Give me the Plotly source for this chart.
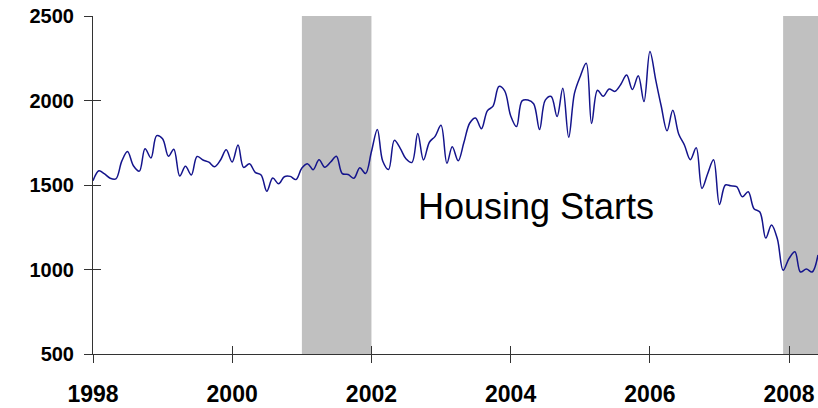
import pandas as pd
import plotly.graph_objects as go

start_month = "1998-01-01"
end_month = "2008-06-01"

starts_1998 = [1525, 1584, 1567, 1540, 1536, 1641, 1698, 1614, 1582, 1715, 1660, 1792]
starts_1999 = [1774, 1670, 1712, 1553, 1611, 1559, 1669, 1648, 1635, 1608, 1648, 1708]
starts_2000 = [1636, 1737, 1604, 1626, 1575, 1559, 1463, 1541, 1507, 1549, 1551, 1532]
starts_2001 = [1600, 1625, 1590, 1649, 1605, 1636, 1670, 1567, 1562, 1540, 1602, 1568]
starts_2002 = [1698, 1829, 1642, 1592, 1764, 1717, 1655, 1633, 1804, 1648, 1753, 1788]
starts_2003 = [1853, 1629, 1726, 1643, 1751, 1867, 1897, 1833, 1939, 1967, 2083, 2057]
starts_2004 = [1911, 1846, 1998, 2003, 1981, 1828, 2002, 2024, 1905, 2072, 1782, 2042]
starts_2005 = [2144, 2220, 1864, 2061, 2025, 2068, 2054, 2095, 2151, 2065, 2147, 1994]
starts_2006 = [2290, 2119, 1969, 1821, 1942, 1802, 1737, 1650, 1720, 1480, 1570, 1649]
starts_2007 = [1385, 1500, 1495, 1490, 1430, 1460, 1360, 1340, 1186, 1264, 1180, 995]
starts_2008 = [1065, 1105, 985, 1003, 985, 1086]

housing_starts = (starts_1998 + starts_1999 + starts_2000 + starts_2001 + starts_2002
                  + starts_2003 + starts_2004 + starts_2005 + starts_2006 + starts_2007
                  + starts_2008)
months = pd.date_range(start_month, periods=len(housing_starts), freq="MS")

recessions = [("2001-01-01", "2002-01-01"), ("2007-12-01", end_month)]

y_ticks = [500, 1000, 1500, 2000, 2500]
x_tick_years = ["1998", "2000", "2002", "2004", "2006", "2008"]
x_tick_vals = [f"{y}-01-01" for y in x_tick_years]

title_text = "Housing Starts"

fig = go.Figure()

for r0, r1 in recessions:
    fig.add_shape(type="rect", xref="x", yref="y", x0=r0, x1=r1, y0=500, y1=2500,
                  fillcolor="#c0c0c0", line_width=0, layer="below")

fig.add_trace(go.Scatter(x=months, y=housing_starts, mode="lines",
                         line=dict(color="#14148c", width=1.5, shape="spline", smoothing=1.0),
                         hoverinfo="skip", showlegend=False))
# invisible trace to activate overlay axes (for crossing tick marks)
fig.add_trace(go.Scatter(x=months, y=housing_starts, mode="lines", xaxis="x2", yaxis="y2",
                         line=dict(width=0), opacity=0, hoverinfo="skip", showlegend=False))

axis_color = "#333333"
font_family = "Arial, Liberation Sans, sans-serif"

fig.update_layout(
    width=818, height=408,
    margin=dict(l=93, r=0, t=16, b=54, autoexpand=False),
    paper_bgcolor="white", plot_bgcolor="white",
    xaxis=dict(type="date", range=[start_month, end_month], tickvals=x_tick_vals,
               ticktext=x_tick_years, ticks="outside", ticklen=8, tickcolor=axis_color,
               showline=True, linecolor=axis_color, linewidth=1, showgrid=False, zeroline=False,
               tickfont=dict(family=font_family, size=23, color="black", weight="bold"),
               ticklabelstandoff=11, automargin=False, ticklabeloverflow="allow"),
    yaxis=dict(range=[500, 2500], tickvals=y_ticks, ticks="outside", ticklen=8,
               tickcolor=axis_color, showline=True, linecolor=axis_color, linewidth=1,
               showgrid=False, zeroline=False,
               tickfont=dict(family=font_family, size=20, color="black", weight="bold"),
               ticklabelstandoff=6, automargin=False, ticklabeloverflow="allow"),
    xaxis2=dict(type="date", overlaying="x", anchor="y2", range=[start_month, end_month],
                tickvals=x_tick_vals, ticks="inside", ticklen=8, tickcolor=axis_color,
                showticklabels=False, showline=False, showgrid=False, zeroline=False,
                automargin=False),
    yaxis2=dict(overlaying="y", anchor="x2", side="left", range=[500, 2500], tickvals=y_ticks,
                ticks="inside", ticklen=8, tickcolor=axis_color, showticklabels=False,
                showline=False, showgrid=False, zeroline=False, automargin=False),
    annotations=[dict(text=title_text, xref="paper", yref="paper", x=0.611, y=0.436,
                      xanchor="center", yanchor="middle", showarrow=False,
                      font=dict(family=font_family, size=36, color="black"))],
)

# remove the page's default body margin so the figure fills the window exactly
fig.write_html("out.html", config={"displayModeBar": False},
               post_script="document.body.style.margin='0';document.body.style.overflow='hidden';")
